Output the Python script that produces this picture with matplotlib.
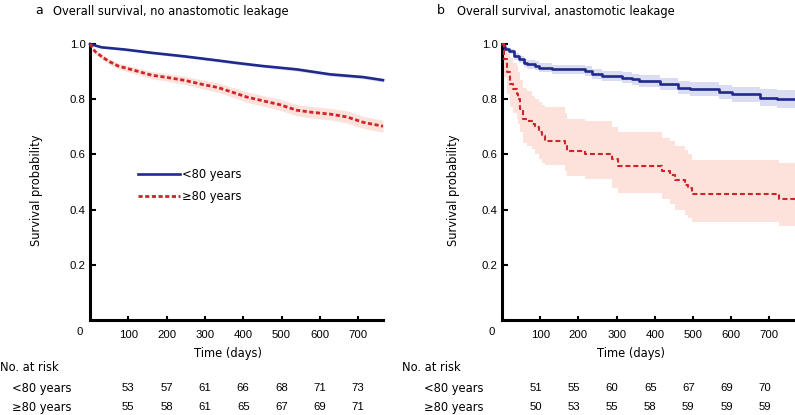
import matplotlib
matplotlib.use("Agg")
import matplotlib.pyplot as plt
from matplotlib.transforms import blended_transform_factory

plt.rcParams['font.family'] = ['Liberation Sans', 'DejaVu Sans']

# ---- panel a : overall survival, no anastomotic leakage ----
a_lt80_t = [0, 30, 91, 161, 248, 335, 379, 452, 540, 627, 714, 765]
a_lt80_s = [1.0, 0.988, 0.98, 0.968, 0.955, 0.94, 0.932, 0.92, 0.908, 0.89, 0.88, 0.869]
a_lt80_hi = [1.0, 0.991, 0.984, 0.972, 0.96, 0.945, 0.937, 0.925, 0.914, 0.896, 0.886, 0.876]
a_lt80_lo = [1.0, 0.985, 0.976, 0.964, 0.95, 0.935, 0.927, 0.915, 0.902, 0.884, 0.874, 0.862]

a_ge80_t = [0, 13, 30, 48, 74, 117, 161, 205, 248, 292, 335, 379, 409, 452, 496, 540, 583, 627, 670, 714, 765]
a_ge80_s = [1.0, 0.973, 0.955, 0.938, 0.92, 0.904, 0.887, 0.878, 0.868, 0.854, 0.842, 0.822, 0.808,
            0.794, 0.78, 0.76, 0.752, 0.746, 0.736, 0.716, 0.702]
a_ge80_hi = [1.0, 0.981, 0.964, 0.948, 0.931, 0.916, 0.9, 0.892, 0.883, 0.87, 0.859, 0.84, 0.827,
             0.813, 0.8, 0.78, 0.773, 0.767, 0.758, 0.738, 0.724]
a_ge80_lo = [1.0, 0.965, 0.946, 0.928, 0.909, 0.892, 0.874, 0.864, 0.853, 0.838, 0.825, 0.804, 0.789,
             0.775, 0.76, 0.74, 0.731, 0.725, 0.714, 0.694, 0.68]

# ---- panel b : overall survival, anastomotic leakage (KM steps) ----
b_end = 767
b_lt80_t = [0, 5, 9, 18, 31, 44, 57, 65, 87, 96, 131, 218, 235, 261, 314, 340, 358, 414, 461, 493,
            567, 601, 676, 720]
b_lt80_s = [1.0, 0.99, 0.982, 0.973, 0.955, 0.944, 0.932, 0.926, 0.922, 0.914, 0.908, 0.902, 0.892,
            0.884, 0.878, 0.872, 0.866, 0.856, 0.842, 0.836, 0.826, 0.818, 0.806, 0.80]
b_lt80_hi = [1.0, 0.995, 0.99, 0.983, 0.967, 0.957, 0.946, 0.941, 0.937, 0.93, 0.924, 0.919, 0.91,
             0.902, 0.897, 0.892, 0.886, 0.878, 0.866, 0.861, 0.853, 0.846, 0.836, 0.834]
b_lt80_lo = [1.0, 0.985, 0.974, 0.963, 0.943, 0.931, 0.918, 0.911, 0.907, 0.898, 0.892, 0.885, 0.874,
             0.866, 0.859, 0.852, 0.846, 0.834, 0.818, 0.811, 0.799, 0.79, 0.776, 0.768]

b_ge80_t = [0, 5, 13, 21, 30, 39, 43, 48, 56, 65, 78, 87, 96, 104, 113, 166, 170, 218, 287, 303,
            419, 440, 453, 480, 488, 497, 724]
b_ge80_s = [1.0, 0.944, 0.897, 0.854, 0.836, 0.82, 0.80, 0.764, 0.728, 0.722, 0.71, 0.698, 0.68,
            0.668, 0.65, 0.632, 0.611, 0.602, 0.585, 0.557, 0.54, 0.525, 0.507, 0.489, 0.477, 0.457, 0.438]
b_ge80_hi = [1.0, 1.0, 0.98, 0.95, 0.93, 0.92, 0.90, 0.87, 0.84, 0.83, 0.81, 0.80, 0.79, 0.78, 0.77,
             0.75, 0.73, 0.72, 0.70, 0.68, 0.66, 0.65, 0.63, 0.615, 0.60, 0.58, 0.57]
b_ge80_lo = [1.0, 0.88, 0.82, 0.77, 0.75, 0.73, 0.71, 0.68, 0.64, 0.63, 0.62, 0.60, 0.585, 0.57, 0.56,
             0.54, 0.52, 0.51, 0.48, 0.46, 0.44, 0.42, 0.40, 0.38, 0.37, 0.355, 0.34]

# ---- number at risk ----
risk_times = [100, 200, 300, 400, 500, 600, 700]
a_risk_lt80 = [53, 57, 61, 66, 68, 71, 73]
a_risk_ge80 = [55, 58, 61, 65, 67, 69, 71]
b_risk_lt80 = [51, 55, 60, 65, 67, 69, 70]
b_risk_ge80 = [50, 53, 55, 58, 59, 59, 59]

BLUE = '#1f2a8c'
RED = '#d0242b'
BLUE_CI = '#dadcf1'
RED_CI = '#fce2da'
FS = 8.2
WORD = dict(family=['DejaVu Sans'], fontsize=8.3)

W, H = 795, 415


def fx(x):
    return x / W


def fy(y):
    return 1 - y / H


def setup_axes(ax, xmax, ylab_x, xlab_x):
    ax.set_xlim(0, xmax)
    ax.set_ylim(0, 1.0)
    for s in ['top', 'right']:
        ax.spines[s].set_visible(False)
    for s in ['left', 'bottom']:
        ax.spines[s].set_linewidth(2.2)
    ax.set_xticks(risk_times)
    ax.set_yticks([0.2, 0.4, 0.6, 0.8, 1.0])
    ax.set_yticklabels(['0.2', '0.4', '0.6', '0.8', '1.0'])
    ax.tick_params(axis='x', direction='in', length=3, width=1.5, pad=7, labelsize=FS)
    ax.tick_params(axis='y', direction='in', length=4, width=1.5, pad=3, labelsize=FS)
    ax.text(-26, -0.045, '0', fontsize=FS, ha='center', va='center', clip_on=False)
    ax.set_ylabel('Survival probability', **WORD)
    ax.yaxis.set_label_coords(ylab_x, 0.47)
    ax.set_xlabel('Time (days)', **WORD)
    ax.xaxis.set_label_coords(xlab_x, -0.098)


def risk_table(ax, lt80, ge80, shift):
    tr = blended_transform_factory(ax.transData, fig.transFigure)
    for t, n1, n2 in zip(risk_times, lt80, ge80):
        ax.text(t + shift, fy(388), str(n1), transform=tr, fontsize=FS, ha='center', va='center')
        ax.text(t + shift, fy(407), str(n2), transform=tr, fontsize=FS, ha='center', va='center')


fig = plt.figure(figsize=(7.95, 4.15), dpi=100)
ax_a = fig.add_axes([fx(90), fy(320), (383 - 90) / W, 276 / H])
ax_b = fig.add_axes([fx(502), fy(320), (795 - 502) / W, 276 / H])

# panel a
ax_a.fill_between(a_lt80_t, a_lt80_lo, a_lt80_hi, color=BLUE_CI, lw=0, zorder=1)
ax_a.fill_between(a_ge80_t, a_ge80_lo, a_ge80_hi, color=RED_CI, lw=0, zorder=1)
ax_a.plot(a_lt80_t, a_lt80_s, color=BLUE, lw=1.9, zorder=3, clip_on=False, label='<80 years')
ax_a.plot(a_ge80_t, a_ge80_s, color=RED, lw=2.0, ls=(0, (1.5, 0.9)), zorder=3, clip_on=False,
          label='\u226580 years')
setup_axes(ax_a, 765, -0.16, 0.471)
ax_a.legend(loc='upper left', bbox_to_anchor=(0.164, 0.552), frameon=False,
            prop={'family': 'DejaVu Sans', 'size': 8.3},
            handlelength=3.6, handletextpad=0.2, borderpad=0, borderaxespad=0, labelspacing=0.8)

# panel b
ax_b.fill_between(b_lt80_t + [b_end], b_lt80_lo + [b_lt80_lo[-1]], b_lt80_hi + [b_lt80_hi[-1]],
                  step='post', color=BLUE_CI, lw=0, zorder=1)
ax_b.fill_between(b_ge80_t + [b_end], b_ge80_lo + [b_ge80_lo[-1]], b_ge80_hi + [b_ge80_hi[-1]],
                  step='post', color=RED_CI, lw=0, zorder=1)
ax_b.step(b_lt80_t + [b_end], b_lt80_s + [b_lt80_s[-1]], where='post', color=BLUE, lw=1.9,
          zorder=3, clip_on=False)
ax_b.step(b_ge80_t + [b_end], b_ge80_s + [b_ge80_s[-1]], where='post', color=RED, lw=1.5,
          ls=(0, (2.4, 1.4)), zorder=3, clip_on=False)
setup_axes(ax_b, b_end, -0.143, 0.44)

risk_table(ax_a, a_risk_lt80, a_risk_ge80, 0)
risk_table(ax_b, b_risk_lt80, b_risk_ge80, -12)

# titles and row labels
fig.text(fx(35), fy(11), 'a', va='center', **dict(WORD, fontsize=9))
fig.text(fx(53), fy(11), 'Overall survival, no anastomotic leakage', va='center', **WORD)
fig.text(fx(437), fy(11), 'b', va='center', **dict(WORD, fontsize=9))
fig.text(fx(457), fy(11), 'Overall survival, anastomotic leakage', va='center', **WORD)

for x0, x1 in [(0, 12), (402, 424)]:
    fig.text(fx(x0), fy(367), 'No. at risk', va='center', **WORD)
    fig.text(fx(x1), fy(388), '<80 years', va='center', **WORD)
    fig.text(fx(x1), fy(407), '\u226580 years', va='center', **WORD)

fig.savefig('out.png', dpi=100)
